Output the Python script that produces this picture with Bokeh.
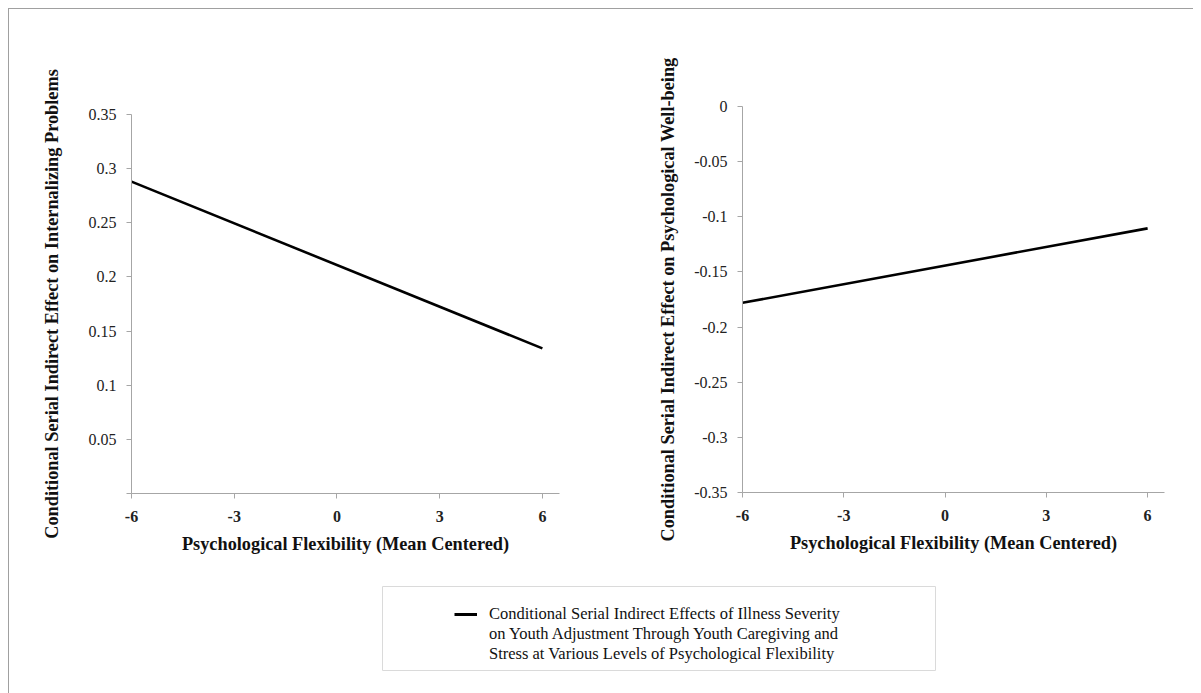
from bokeh.plotting import figure
from bokeh.layouts import column, row
from bokeh.models import FixedTicker, Range1d, Legend, LegendItem
from bokeh.embed import file_html
from bokeh.resources import INLINE

# ---------------- data ----------------
flex_levels = [-6, 6]
internalizing_effect = [0.288, 0.134]
wellbeing_effect = [-0.178, -0.1105]

x_ticks = [-6, -3, 0, 3, 6]
x_tick_labels = ["-6", "-3", "0", "3", "6"]
left_y_ticks = [0, 0.05, 0.1, 0.15, 0.2, 0.25, 0.3, 0.35]
left_y_labels = ["", "0.05", "0.1", "0.15", "0.2", "0.25", "0.3", "0.35"]
right_y_ticks = [-0.35, -0.3, -0.25, -0.2, -0.15, -0.1, -0.05, 0]
right_y_labels = ["-0.35", "-0.3", "-0.25", "-0.2", "-0.15", "-0.1", "-0.05", "0"]

x_title = "Psychological Flexibility (Mean Centered)"
left_y_title = "Conditional Serial Indirect Effect on Internalizing Problems"
right_y_title = "Conditional Serial Indirect Effect on Psychological Well-being"
legend_lines = ["Conditional Serial Indirect Effects of Illness Severity",
                "on Youth Adjustment Through Youth Caregiving and",
                "Stress at Various Levels of Psychological Flexibility"]

FONT = "Liberation Serif"
AXIS_GRAY = "#a6a6a6"
TITLE_SIZE = "18.3px"


def make_chart(yvals, y_range, yticks, ylabels, ytitle, ystandoff,
               bl, fw, br, bt, fh, bb):
    p = figure(output_backend="svg", toolbar_location=None,
               frame_width=fw, frame_height=fh, frame_align=False,
               min_border_left=bl, min_border_right=br,
               min_border_top=bt, min_border_bottom=bb,
               x_range=Range1d(-6, 6.5), y_range=Range1d(*y_range))
    p.line(flex_levels, yvals, line_color="black", line_width=2.6)
    p.grid.visible = False
    p.outline_line_color = None
    p.background_fill_color = "white"
    p.border_fill_color = "white"

    xa = p.xaxis[0]
    xa.ticker = FixedTicker(ticks=x_ticks)
    xa.major_label_overrides = dict(zip(x_ticks, x_tick_labels))
    xa.minor_tick_line_color = None
    xa.major_tick_in = 0
    xa.major_tick_out = 5
    xa.axis_line_color = AXIS_GRAY
    xa.major_tick_line_color = AXIS_GRAY
    xa.major_label_text_font = FONT
    xa.major_label_text_font_size = "16px"
    xa.major_label_text_font_style = "bold"
    xa.major_label_text_color = "#222222"
    xa.major_label_standoff = 12
    xa.axis_label = x_title
    xa.axis_label_text_font = FONT
    xa.axis_label_text_font_size = TITLE_SIZE
    xa.axis_label_text_font_style = "bold"
    xa.axis_label_text_color = "#111111"
    xa.axis_label_standoff = 9

    ya = p.yaxis[0]
    ya.ticker = FixedTicker(ticks=yticks)
    ya.major_label_overrides = dict(zip(yticks, ylabels))
    ya.minor_tick_line_color = None
    ya.major_tick_in = 0
    ya.major_tick_out = 5
    ya.axis_line_color = AXIS_GRAY
    ya.major_tick_line_color = AXIS_GRAY
    ya.major_label_text_font = FONT
    ya.major_label_text_font_size = "16px"
    ya.major_label_text_color = "#222222"
    ya.major_label_standoff = 10
    ya.axis_label = ytitle
    ya.axis_label_text_font = FONT
    ya.axis_label_text_font_size = TITLE_SIZE
    ya.axis_label_text_font_style = "bold"
    ya.axis_label_text_color = "#111111"
    ya.axis_label_standoff = ystandoff
    return p


p_left = make_chart(internalizing_effect, (0, 0.35), left_y_ticks, left_y_labels,
                    left_y_title, 24, 122, 428, 41, 105, 379, 75)
p_right = make_chart(wellbeing_effect, (-0.35, 0), right_y_ticks, right_y_labels,
                     right_y_title, 13, 142, 422, 29, 97, 386, 76)

# ---------------- legend panel ----------------
p_leg = figure(output_backend="svg", toolbar_location=None,
               frame_width=553, frame_height=84, frame_align=False,
               min_border_left=373, min_border_right=257,
               min_border_top=18, min_border_bottom=23,
               x_range=Range1d(0, 1), y_range=Range1d(10, 11))
leg_line = p_leg.line(flex_levels, internalizing_effect,
                      line_color="black", line_width=3)
blank_line = p_leg.line(flex_levels, wellbeing_effect, line_alpha=0)
p_leg.axis.visible = False
p_leg.grid.visible = False
p_leg.outline_line_color = "#dadada"
p_leg.outline_line_width = 1

items = [LegendItem(label=legend_lines[0], renderers=[leg_line])]
items += [LegendItem(label=t, renderers=[blank_line]) for t in legend_lines[1:]]
legend = Legend(items=items,
                location=(72, 6), padding=0, margin=0, spacing=0,
                glyph_width=23, glyph_height=20, label_standoff=12,
                label_height=20,
                border_line_color=None, background_fill_alpha=0,
                label_text_font=FONT, label_text_font_size="16.5px",
                label_text_color="#111111")
p_leg.add_layout(legend, "center")

layout = column(row(p_left, p_right), p_leg,
                styles={"margin-left": "8px", "margin-top": "8px",
                        "border-left": "1px solid #a0a0a0",
                        "border-top": "1px solid #a0a0a0"})

open("out.html", "w").write(file_html(layout, INLINE))
